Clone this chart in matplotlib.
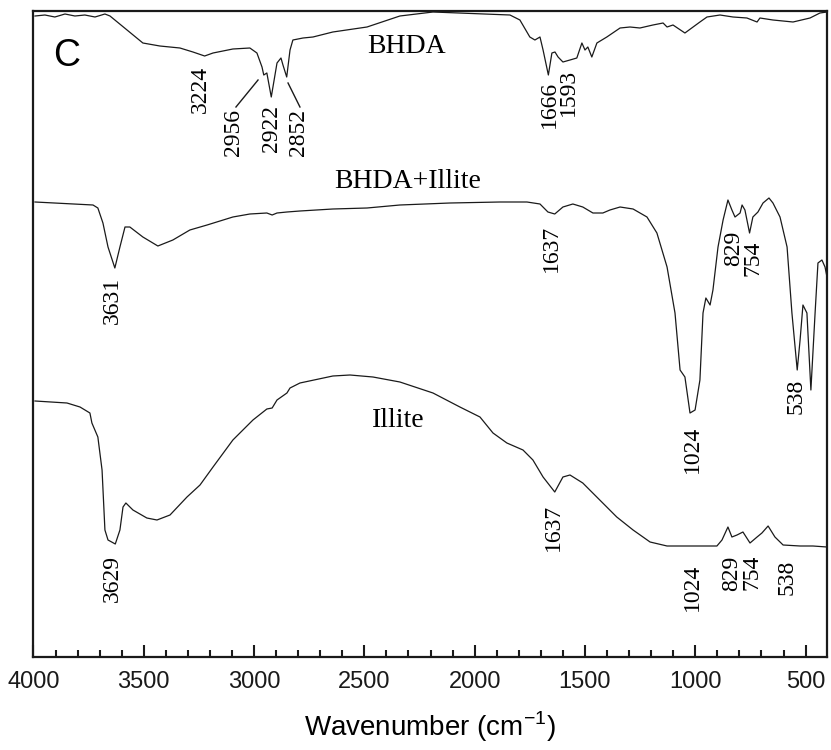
import matplotlib
matplotlib.use("Agg")
import matplotlib.pyplot as plt
from matplotlib.ticker import MultipleLocator

# ---------------- data (wavenumber in cm-1, offset transmittance a.u.) ----------------
bhda_wn = [3993, 3948, 3903, 3857, 3812, 3767, 3721, 3676, 3653,
           3504, 3427, 3336, 3277, 3224, 3186, 3096, 3019, 2987, 2964,
           2956, 2942, 2922, 2896, 2878, 2869, 2852, 2837, 2824, 2778,
           2733, 2643, 2488, 2339, 2189, 1840, 1795, 1750, 1727, 1704,
           1690, 1666, 1650, 1636, 1622, 1600, 1568, 1537, 1514, 1500,
           1487, 1469, 1446, 1401, 1341, 1296, 1251, 1192, 1146, 1128,
           1101, 1047, 1010, 979, 947, 888, 829, 766, 720, 707,
           648, 557, 480, 435, 403]
bhda_t = [734, 735, 733, 736, 734, 735, 733, 736, 734,
          707, 704, 702, 698, 694, 697, 701, 702, 697, 683,
          675, 677, 653, 687, 692, 685, 673, 700, 710, 712,
          713, 718, 723, 734, 738, 735, 730, 713, 710, 713,
          700, 675, 697, 698, 693, 688, 690, 692, 707, 700,
          703, 693, 707, 713, 722, 723, 722, 725, 727, 723,
          725, 717, 723, 728, 733, 735, 733, 732, 728, 732,
          730, 728, 732, 737, 738]

mix_wn = [3993, 3730, 3708, 3685, 3662, 3631, 3608, 3585, 3563, 3504,
          3436, 3368, 3291, 3213, 3096, 3019, 2942, 2918, 2896, 2851,
          2792, 2643, 2488, 2339, 2112, 1885, 1763, 1704, 1668, 1637,
          1600, 1555, 1510, 1464, 1419, 1387, 1341, 1282, 1219, 1174,
          1128, 1092, 1069, 1047, 1024, 1001, 979, 965, 952, 933,
          920, 897, 874, 852, 834, 820, 797, 788, 775, 754,
          739, 716, 693, 666, 648, 616, 584, 562, 538, 525,
          512, 494, 476, 457, 444, 426, 412, 403]
mix_t = [548, 545, 542, 527, 503, 482, 503, 523, 523, 513,
         504, 510, 520, 525, 533, 536, 537, 535, 537, 538,
         539, 541, 542, 545, 547, 548, 548, 546, 538, 536,
         543, 546, 543, 537, 537, 540, 543, 541, 533, 517,
         483, 437, 380, 373, 337, 340, 370, 437, 452, 445,
         460, 503, 530, 550, 540, 533, 537, 545, 540, 517,
         533, 538, 547, 552, 547, 533, 503, 437, 380, 410,
         445, 437, 360, 437, 487, 490, 483, 473]

illite_wn = [3993, 3848, 3789, 3744, 3735, 3708, 3689, 3676, 3662, 3629,
             3608, 3594, 3581, 3549, 3486, 3440, 3381, 3304, 3245, 3186,
             3096, 3005, 2942, 2918, 2896, 2851, 2837, 2792, 2643, 2565,
             2461, 2339, 2189, 2067, 1976, 1917, 1854, 1781, 1736, 1690,
             1637, 1600, 1568, 1510, 1433, 1356, 1282, 1205, 1128, 902,
             879, 852, 834, 811, 784, 752, 720, 698, 670, 639,
             602, 525, 467, 403]
illite_t = [349, 347, 343, 337, 327, 313, 280, 220, 210, 206,
            220, 243, 247, 240, 232, 230, 235, 253, 265, 283,
            310, 330, 341, 342, 350, 357, 362, 367, 374, 375,
            373, 368, 357, 343, 333, 317, 307, 300, 290, 273,
            258, 273, 275, 267, 250, 233, 220, 208, 204, 204,
            210, 223, 213, 215, 218, 207, 213, 217, 224, 213,
            205, 204, 204, 203]

series_names = ["BHDA", "BHDA+Illite", "Illite"]

# peak labels: (text, wavenumber position, transmittance position)
peak_labels = [
    ("3224", 3245, 661), ("2956", 3091, 617), ("2922", 2923, 622),
    ("2852", 2797, 618), ("1666", 1663, 646), ("1593", 1577, 658),
    ("3631", 3640, 450), ("1637", 1650, 502), ("829", 825, 502),
    ("754", 739, 492), ("1024", 1015, 301), ("538", 544, 354),
    ("3629", 3640, 171), ("1637", 1641, 223), ("1024", 1015, 163),
    ("829", 834, 177), ("754", 743, 178), ("538", 584, 173),
]
leader_lines = [((2982, 3082), (670, 643)), ((2846, 2792), (667, 643))]

# ---------------- figure ----------------
fig = plt.figure(figsize=(8.31, 7.5), dpi=100)
ax = fig.add_axes([33 / 831, 93 / 750, 794 / 831, 646 / 750])

for wn, t in [(bhda_wn, bhda_t), (mix_wn, mix_t), (illite_wn, illite_t)]:
    ax.plot(wn, t, color="#1a1a1a", lw=0.9)

serif = "Liberation Serif"
ax.text(2307, 697, series_names[0], fontsize=20, family=serif, ha="center", va="baseline")
ax.text(2302, 562, series_names[1], fontsize=20, family=serif, ha="center", va="baseline")
ax.text(2348, 323, series_names[2], fontsize=20, family=serif, ha="center", va="baseline")

for txt, x, y in peak_labels:
    ax.text(x, y, txt, fontsize=17, family=serif, rotation=90,
            ha="center", va="center")
for xs, ys in leader_lines:
    ax.plot(xs, ys, color="#1a1a1a", lw=1.0)

ax.text(0.042, 0.93, "C", transform=ax.transAxes, fontsize=27,
        family="Liberation Sans", ha="center", va="center")

ax.set_xlim(4002, 403)
ax.set_ylim(93, 739)
ax.xaxis.set_major_locator(MultipleLocator(500))
ax.xaxis.set_minor_locator(MultipleLocator(100))
ax.set_yticks([])
ax.tick_params(axis="x", which="both", direction="in", top=False, bottom=True,
               width=1.5, colors="#1a1a1a")
ax.tick_params(axis="x", which="major", length=9, pad=10, labelsize=17)
ax.tick_params(axis="x", which="minor", length=5)
for lab in ax.get_xticklabels():
    lab.set_family("Liberation Sans")
for sp in ax.spines.values():
    sp.set_linewidth(1.6)
    sp.set_color("#1a1a1a")

ax.set_xlabel("Wavenumber (cm$^{\\mathregular{-1}}$)", fontsize=20,
              family="Liberation Sans", labelpad=12)

fig.savefig("out.png", dpi=100)
